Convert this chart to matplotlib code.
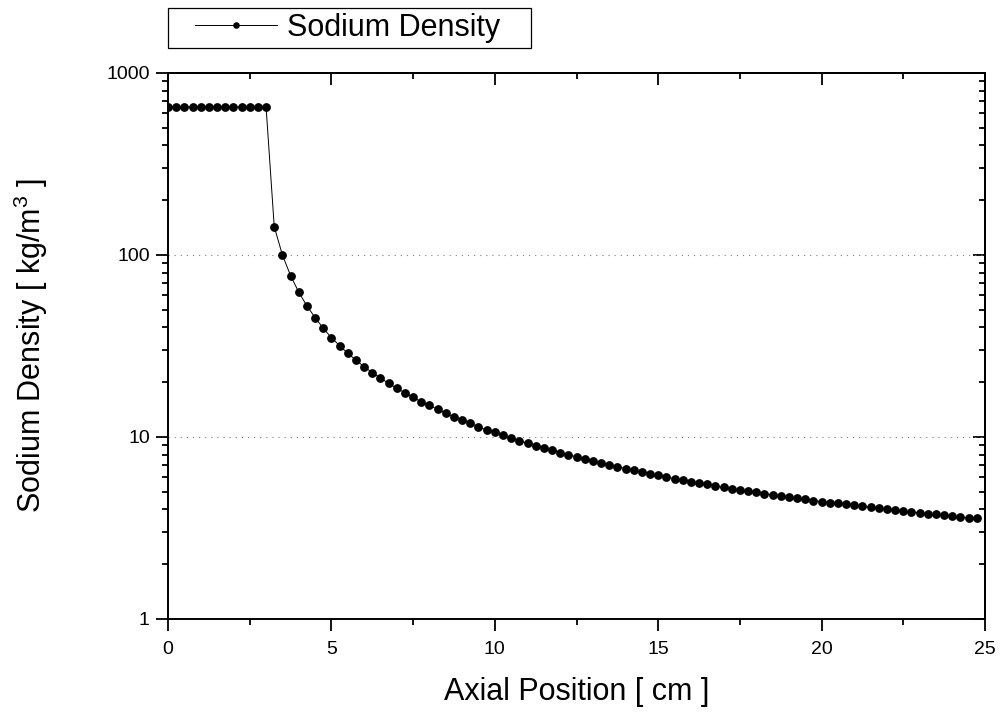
import numpy as np
import matplotlib
matplotlib.use("Agg")
import matplotlib.pyplot as plt
from matplotlib.ticker import LogLocator, MultipleLocator, NullFormatter
from matplotlib.legend_handler import HandlerLine2D

# axial positions [cm], sampled every 0.25 cm
position = np.arange(0, 25, 0.25)

# sodium density [kg/m^3]
density = [650, 650, 650, 650, 650, 650, 650, 650, 650, 650, 650, 650, 650,
           143, 100, 77, 62.5, 52.5, 45.3, 39.6, 35.1, 31.8, 28.8, 26.5, 24.3,
           22.6, 21.1, 19.7, 18.5, 17.5, 16.5, 15.6, 14.9, 14.2, 13.5, 12.9,
           12.4, 11.9, 11.4, 10.9, 10.6,
           10.2, 9.88, 9.55, 9.23, 8.96, 8.70, 8.45, 8.20, 8.0, 7.77, 7.57,
           7.38, 7.22, 7.02, 6.87, 6.70, 6.56, 6.42, 6.29, 6.16, 6.03, 5.90,
           5.80, 5.68, 5.59, 5.50, 5.38, 5.29,
           5.20, 5.11, 5.03, 4.97, 4.88, 4.82, 4.74, 4.66, 4.60, 4.55, 4.47,
           4.41, 4.36, 4.32, 4.27, 4.22, 4.16, 4.11, 4.06, 4.02, 3.97, 3.92,
           3.87, 3.84, 3.79, 3.76, 3.73, 3.67, 3.63, 3.60, 3.57]

xticks = [0, 5, 10, 15, 20, 25]
yticks = [1, 10, 100, 1000]
ytick_labels = ['1', '10', '100', '1000']

plt.rcParams['font.family'] = ['Liberation Sans', 'DejaVu Sans']
plt.rcParams['mathtext.fontset'] = 'custom'
plt.rcParams['mathtext.rm'] = 'Liberation Sans'
plt.rcParams['mathtext.default'] = 'regular'

fig = plt.figure(figsize=(10.05, 7.17), dpi=100)
ax = fig.add_axes([0.1672, 0.1367, 0.8129, 0.7615])

line, = ax.plot(position, density, color='black', lw=0.7,
                marker='o', markersize=5.3, label='Sodium Density')

ax.set_yscale('log')
ax.set_xlim(0, 25)
ax.set_ylim(1, 1000)

ax.set_xticks(xticks)
ax.xaxis.set_minor_locator(MultipleLocator(2.5))
ax.set_yticks(yticks, labels=ytick_labels)
ax.yaxis.set_minor_locator(LogLocator(base=10, subs=np.arange(2, 10)))
ax.yaxis.set_minor_formatter(NullFormatter())

# dotted grid at the decades
ax.yaxis.grid(True, which='major', color='gray', lw=0.8, dashes=(1, 4.5))

for s in ax.spines.values():
    s.set_linewidth(1.4)

ax.tick_params(which='major', direction='out', length=8.6, width=1.3,
               labelsize=14)
ax.tick_params(axis='x', which='major', pad=7)
ax.tick_params(axis='y', which='major', pad=4.5)
ax.tick_params(which='minor', direction='out', length=4.3, width=1.3)

# top and right axes carry inward ticks, no labels
top = ax.secondary_xaxis('top')
top.set_xticks(xticks)
top.xaxis.set_minor_locator(MultipleLocator(2.5))
top.tick_params(which='major', direction='in', length=8.6, width=1.3, labeltop=False)
top.tick_params(which='minor', direction='in', length=4.3, width=1.3)
top.spines['top'].set_linewidth(1.4)

right = ax.secondary_yaxis('right')
right.set_yticks(yticks)
right.yaxis.set_minor_locator(LogLocator(base=10, subs=np.arange(2, 10)))
right.yaxis.set_minor_formatter(NullFormatter())
right.tick_params(which='major', direction='in', length=8.6, width=1.3, labelright=False)
right.tick_params(which='minor', direction='in', length=4.3, width=1.3)
right.spines['right'].set_linewidth(1.4)

ax.set_xlabel('Axial Position [ cm ]', fontsize=22)
ax.set_ylabel('Sodium Density [ kg/m$^{3}$ ]', fontsize=22)
ax.xaxis.set_label_coords(0.5, -0.107)
ax.yaxis.set_label_coords(-0.144, 0.5)

leg = ax.legend(handles=[line], loc='upper left',
                bbox_to_anchor=(0.1672, 0.9274, 0.3612, 0.0614),
                bbox_transform=fig.transFigure, mode='expand',
                borderaxespad=0, fontsize=22, borderpad=0.16,
                handlelength=3.4, handletextpad=0.33, markerscale=0.7,
                fancybox=False, framealpha=1,
                handler_map={line: HandlerLine2D(xpad=0.72)})
leg.get_frame().set_edgecolor('black')
leg.get_frame().set_linewidth(0.9)

fig.savefig('out.png', dpi=100)
